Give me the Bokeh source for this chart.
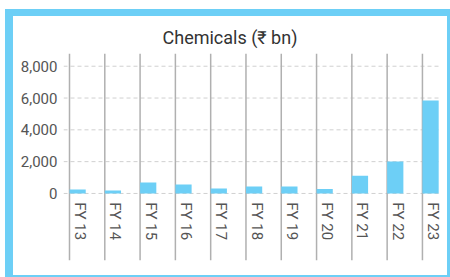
import math
from bokeh.plotting import figure
from bokeh.models import FixedTicker, Range1d, NumeralTickFormatter, Title
from bokeh.core.properties import value
from bokeh.embed import file_html
from bokeh.resources import INLINE

categories = ["FY 13", "FY 14", "FY 15", "FY 16", "FY 17", "FY 18", "FY 19", "FY 20", "FY 21", "FY 22", "FY 23"]
values = [250, 190, 690, 560, 310, 440, 440, 275, 1110, 2010, 5850]
y_ticks = [0, 2000, 4000, 6000, 8000]

BLUE = "#6dcff6"
FONT = "Roboto"
Y0, Y1 = -4215, 8800
XL, XG, XR = -0.17, 10.54, 10.71

idx = list(range(len(categories)))

p = figure(width=445, height=268, output_backend="svg", toolbar_location=None,
           x_range=Range1d(XL, XR), y_range=Range1d(Y0, Y1),
           min_border_left=50, min_border_right=11, min_border_top=37, min_border_bottom=24)
p.styles = {"margin-left": "5px", "margin-top": "9px",
            "border-left": f"8px solid {BLUE}", "border-top": f"7px solid {BLUE}",
            "border-right": f"3px solid {BLUE}", "border-bottom": f"2px solid {BLUE}"}

p.title = Title(text="Chemicals (₹ bn)", align="left", text_font=FONT, text_font_size="18px",
                text_font_style="normal", text_color="#333333", offset=99, standoff=12)

p.outline_line_color = None
p.xaxis.visible = False
p.xgrid.visible = False
p.ygrid.visible = False

p.yaxis.ticker = FixedTicker(ticks=y_ticks)
p.yaxis.formatter = NumeralTickFormatter(format="0,0")
p.yaxis.axis_line_color = None
p.yaxis.major_tick_line_color = None
p.yaxis.minor_tick_line_color = None
p.yaxis.major_tick_out = 0
p.yaxis.major_tick_in = 0
p.yaxis.major_label_standoff = 6
p.yaxis.major_label_text_font = FONT
p.yaxis.major_label_text_font_size = "15px"
p.yaxis.major_label_text_color = "#555555"

# dashed horizontal gridlines at the y ticks (stop short of the right edge)
p.segment(x0=[XL] * len(y_ticks), x1=[XG] * len(y_ticks), y0=y_ticks, y1=y_ticks,
          line_color="#d0d0d0", line_width=1, line_dash="4 3")

# vertical category separators
p.segment(x0=idx, x1=idx, y0=[Y0] * len(idx), y1=[Y1] * len(idx),
          line_color="#b0b0b0", line_width=1.5)

p.vbar(x=[i + 0.23 for i in idx], top=values, bottom=0, width=0.46,
       fill_color=BLUE, line_color=None)

p.text(x=[i + 0.30 for i in idx], y=[-550] * len(idx), text=categories, angle=-math.pi / 2,
       text_align="left", text_baseline="middle", text_font=value(FONT),
       text_font_size="15px", text_color="#555555")

open("out.html", "w").write(file_html(p, INLINE))
